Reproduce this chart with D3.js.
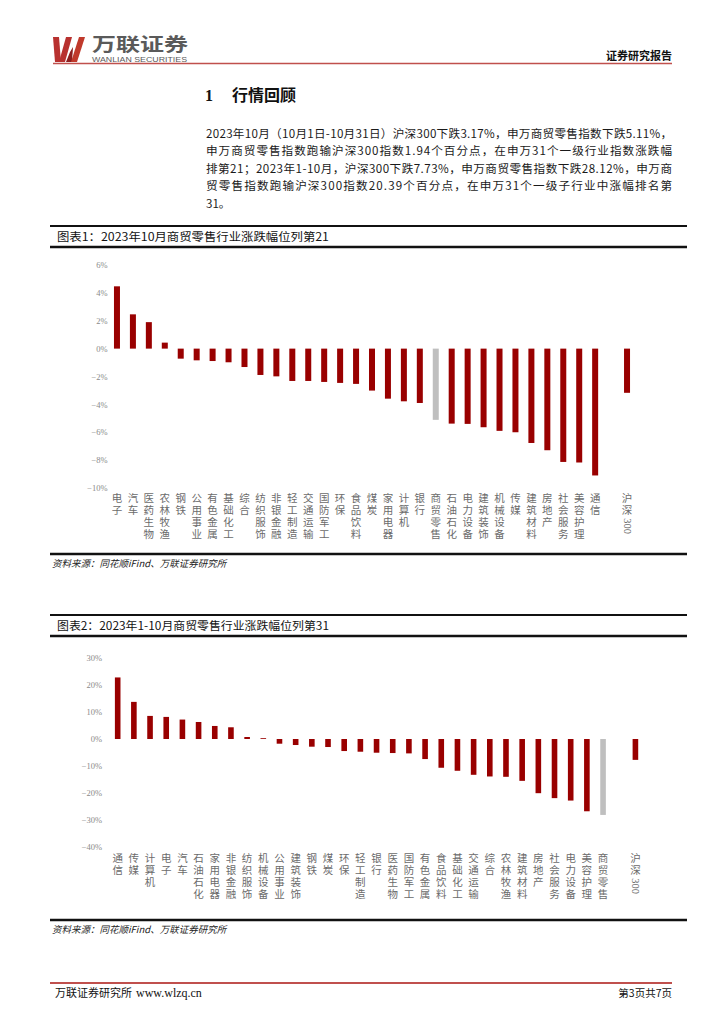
<!DOCTYPE html>
<html>
<head>
<meta charset="utf-8">
<script src="https://cdn.jsdelivr.net/npm/d3@7/dist/d3.min.js"></script>
<style>
  html, body { margin: 0; padding: 0; background: #fff; }
  svg { display: block; }
  .cjk { font-family: "Noto Sans CJK SC", "Noto Sans", sans-serif; }
  .serif { font-family: "Liberation Serif", "DejaVu Serif", serif; }
</style>
</head>
<body>
<svg id="page" width="724" height="1024"></svg>
<script>
// ---------- DATA ----------
const categories1 = ["电子","汽车","医药生物","农林牧渔","钢铁","公用事业","有色金属","基础化工","综合","纺织服饰","非银金融","轻工制造","交通运输","国防军工","环保","食品饮料","煤炭","家用电器","计算机","银行","商贸零售","石油石化","电力设备","建筑装饰","机械设备","传媒","建筑材料","房地产","社会服务","美容护理","通信","沪深300"];
const values1 = [4.47,2.46,1.9,0.43,-0.72,-0.84,-0.89,-0.98,-1.32,-1.89,-1.99,-2.32,-2.32,-2.39,-2.46,-2.53,-3.01,-3.59,-3.78,-3.9,-5.11,-5.38,-5.4,-5.64,-5.9,-6.0,-6.77,-7.29,-8.13,-8.17,-9.1,-3.17];
const ticks1 = [6,4,2,0,-2,-4,-6,-8,-10];

const categories2 = ["通信","传媒","计算机","电子","汽车","石油石化","家用电器","非银金融","纺织服饰","机械设备","公用事业","建筑装饰","钢铁","煤炭","环保","轻工制造","银行","医药生物","国防军工","有色金属","食品饮料","基础化工","交通运输","综合","农林牧渔","建筑材料","房地产","社会服务","电力设备","美容护理","商贸零售","沪深300"];
const values2 = [22.8,13.75,8.55,8.18,7.2,6.3,4.83,4.34,0.74,0.3,-1.74,-2.23,-2.85,-2.97,-4.46,-4.71,-5.08,-5.2,-5.33,-7.43,-10.65,-11.77,-13.26,-13.88,-14.0,-15.5,-20.07,-21.9,-22.8,-26.77,-28.12,-7.73];
const ticks2 = [30,20,10,0,-10,-20,-30,-40];

const highlightCat = "商贸零售";
const benchmarkCat = "沪深300";

const bodyLines = [
  "2023年10月（10月1日-10月31日）沪深300下跌3.17%，申万商贸零售指数下跌5.11%，",
  "申万商贸零售指数跑输沪深300指数1.94个百分点，在申万31个一级行业指数涨跌幅",
  "排第21；2023年1-10月，沪深300下跌7.73%，申万商贸零售指数下跌28.12%，申万商",
  "贸零售指数跑输沪深300指数20.39个百分点，在申万31个一级子行业中涨幅排名第",
  "31。"
];

// ---------- PAGE ----------
const svg = d3.select("#page");
const RED = "#990000", GRAY_BAR = "#BFBFBF", LINE_RED = "#C0504D";

// header logo
const logo = svg.append("g");
logo.append("path").attr("d","M53,37 L59,37 L61,62 L55,62 Z").attr("fill","#b8312f");
logo.append("path").attr("d","M59,62 L65,62 L72,37 L66,37 Z").attr("fill","#b8312f");
logo.append("path").attr("d","M66,62 L72,62 L73,47 L70,52 Z").attr("fill","#8e1f1f");
logo.append("path").attr("d","M71,62 L77,62 L85,37 L79,37 Z").attr("fill","#c0392b");
logo.append("text").attr("class","cjk").attr("x",92).attr("y",50.5)
  .attr("font-size",18.5).attr("font-weight","bold").attr("fill","#5a5a5a")
  .attr("textLength",96).attr("lengthAdjust","spacingAndGlyphs").text("万联证券");
logo.append("text").attr("x",92).attr("y",62.4).attr("font-family","Liberation Sans, sans-serif")
  .attr("font-size",7.2).attr("fill","#5a5a5a")
  .attr("textLength",95).attr("lengthAdjust","spacingAndGlyphs").text("WANLIAN SECURITIES");
svg.append("line").attr("x1",53).attr("x2",672).attr("y1",63.5).attr("y2",63.5)
  .attr("stroke",LINE_RED).attr("stroke-width",1.3);
svg.append("text").attr("class","cjk").attr("x",672).attr("y",60).attr("text-anchor","end")
  .attr("font-size",11).attr("font-weight","bold").attr("fill","#111").text("证券研究报告");

// heading
svg.append("text").attr("class","serif").attr("x",205).attr("y",101)
  .attr("font-size",16).attr("font-weight","bold").attr("fill","#111").text("1");
svg.append("text").attr("class","cjk").attr("x",232).attr("y",101)
  .attr("font-size",16).attr("font-weight","bold").attr("fill","#111").text("行情回顾");

// body text
const bodyY = [137.5, 155, 172.5, 190, 207.5];
bodyLines.forEach((t,i) => {
  const tx = svg.append("text").attr("class","cjk").attr("x",206).attr("y",bodyY[i])
    .attr("font-size",11.6).attr("fill","#1a1a1a").text(t);
  if (i < bodyLines.length - 1) tx.attr("textLength",466).attr("lengthAdjust","spacing");
});

// ---------- CHART BUILDER ----------
function chartFrame(cfg) {
  svg.append("line").attr("x1",50).attr("x2",687).attr("y1",cfg.top).attr("y2",cfg.top)
    .attr("stroke","#111").attr("stroke-width",1.8);
  svg.append("line").attr("x1",50).attr("x2",687).attr("y1",cfg.top+21).attr("y2",cfg.top+21)
    .attr("stroke","#111").attr("stroke-width",2.4);
  svg.append("text").attr("class","cjk").attr("x",57).attr("y",cfg.top+15)
    .attr("font-size",11.5).attr("fill","#111")
    .attr("textLength",cfg.titleLen).attr("lengthAdjust","spacingAndGlyphs").text(cfg.title);
  svg.append("line").attr("x1",50).attr("x2",687).attr("y1",cfg.srcLine).attr("y2",cfg.srcLine)
    .attr("stroke","#111").attr("stroke-width",2.4);
  svg.append("text").attr("class","cjk").attr("x",52).attr("y",cfg.srcLine+13)
    .attr("font-size",9.5).attr("font-style","italic").attr("fill","#222")
    .text("资料来源：同花顺iFind、万联证券研究所");
}

function drawChart(cfg) {
  const domain = cfg.cats.slice(0, -1).concat(["__gap__", cfg.cats[cfg.cats.length-1]]);
  const pI = 1 - cfg.barW / ((cfg.x1 - cfg.x0) / domain.length);
  const x = d3.scaleBand().domain(domain).range([cfg.x0, cfg.x1])
    .paddingInner(pI).paddingOuter(pI/2);
  const y = d3.scaleLinear().domain(cfg.yDomain).range(cfg.yRange);

  const g = svg.append("g");
  // axis
  const ax = g.append("g").attr("transform",`translate(${cfg.axisX},0)`)
    .call(d3.axisLeft(y).tickValues(cfg.ticks).tickSize(0).tickPadding(0)
      .tickFormat(v => (v < 0 ? "−" : "") + Math.abs(v) + "%"));
  ax.select(".domain").remove();
  ax.selectAll("text").attr("font-family","Liberation Serif, serif").attr("font-size",8.5)
    .attr("fill","#8a8a8a").attr("dy","0.32em");

  // bars
  const data = cfg.cats.map((c,i) => ({c, v: cfg.vals[i]}));
  g.selectAll("rect.bar").data(data).join("rect").attr("class","bar")
    .attr("x", d => x(d.c)).attr("width", x.bandwidth())
    .attr("y", d => y(Math.max(0,d.v))).attr("height", d => Math.abs(y(d.v) - y(0)))
    .attr("fill", d => d.c === highlightCat ? GRAY_BAR : RED);

  // category labels (vertical stacked)
  data.forEach(d => {
    const cx = x(d.c) + x.bandwidth()/2;
    const isBench = d.c === benchmarkCat;
    const chars = isBench ? ["沪","深"] : Array.from(d.c);
    chars.forEach((ch,k) => {
      g.append("text").attr("class","cjk").attr("x",cx).attr("y",cfg.labelY + k*cfg.rowStep)
        .attr("text-anchor","middle").attr("font-size",cfg.labelSize).attr("fill","#6b6b6b").text(ch);
    });
    if (isBench) {
      const ty = cfg.labelY + 2*cfg.rowStep - cfg.labelSize*0.75;
      g.append("text").attr("class","serif")
        .attr("transform",`translate(${cx-3.5},${ty}) rotate(90)`)
        .attr("font-size",cfg.labelSize).attr("fill","#6b6b6b").text("300");
    }
  });
}

// ---------- CHART 1 ----------
chartFrame({top:226, title:"图表1：2023年10月商贸零售行业涨跌幅位列第21", titleLen:272, srcLine:554});
drawChart({
  cats: categories1, vals: values1, ticks: ticks1,
  x0: 109, x1: 635, barW: 6,
  yDomain: [-10, 6], yRange: [488, 265], axisX: 107.5,
  labelY: 502, rowStep: 12, labelSize: 10.5
});

// ---------- CHART 2 ----------
chartFrame({top:615, title:"图表2：2023年1-10月商贸零售行业涨跌幅位列第31", titleLen:272, srcLine:920});
drawChart({
  cats: categories2, vals: values2, ticks: ticks2,
  x0: 109.6, x1: 643.5, barW: 5.6,
  yDomain: [-40, 30], yRange: [847, 658], axisX: 102,
  labelY: 862, rowStep: 12, labelSize: 10.5
});

// ---------- FOOTER ----------
svg.append("line").attr("x1",50).attr("x2",672).attr("y1",983).attr("y2",983)
  .attr("stroke",LINE_RED).attr("stroke-width",1.8);
svg.append("text").attr("class","cjk").attr("x",55).attr("y",997)
  .attr("font-size",11).attr("fill","#111").text("万联证券研究所");
svg.append("text").attr("class","serif").attr("x",136).attr("y",997)
  .attr("font-size",12).attr("fill","#111").text("www.wlzq.cn");
svg.append("text").attr("class","cjk").attr("x",672).attr("y",997).attr("text-anchor","end")
  .attr("font-size",10.5).attr("fill","#111").text("第3页共7页");
</script>
</body>
</html>
